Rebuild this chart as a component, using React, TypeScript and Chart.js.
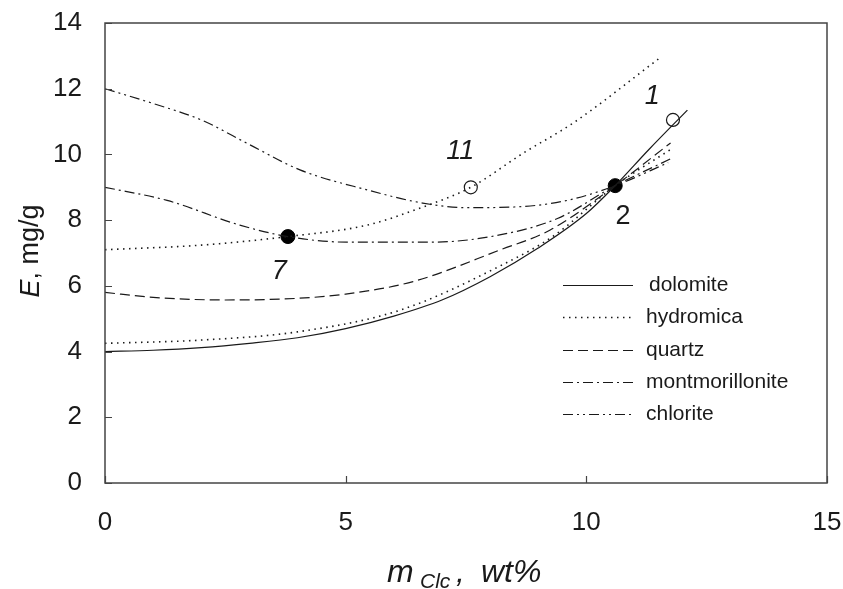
import React, { useEffect, useRef } from "react";
import { Chart, registerables } from "chart.js";

Chart.register(...registerables);

// ---- data ----
const dolomiteX = [0, 1, 2, 3, 4, 5, 6, 7, 8, 9, 10, 10.6, 11.3, 12.1];
const dolomiteY = [4.0, 4.04, 4.12, 4.25, 4.42, 4.7, 5.08, 5.57, 6.28, 7.15, 8.2, 9.05, 10.15, 11.35];

const hydromicaX = [0, 2, 4, 6.13, 8.2, 9.3, 10.6, 11.75];
const hydromicaY = [4.25, 4.35, 4.6, 5.26, 6.6, 7.5, 9.05, 10.15];

const hydromica11X = [0, 2, 3.8, 5.45, 6.55, 7.6, 8.69, 9.73, 11.52];
const hydromica11Y = [7.1, 7.24, 7.5, 7.85, 8.37, 9.0, 10.04, 10.96, 12.93];

const quartzX = [0, 1, 2.5, 4, 5, 6.4, 8.2, 9.25, 10.6, 11.75];
const quartzY = [5.8, 5.65, 5.57, 5.62, 5.75, 6.13, 7.09, 7.7, 9.05, 10.35];

const montmorilloniteX = [0, 1.29, 2.8, 3.8, 5.03, 6.8, 8.2, 9.4, 10.6, 11.8];
const montmorilloniteY = [9.0, 8.6, 7.85, 7.5, 7.33, 7.33, 7.55, 8.05, 9.05, 9.9];

const chloriteX = [0, 1, 2, 3, 4.05, 5.45, 6.6, 7.5, 8.5, 9.6, 10.6, 11.7];
const chloriteY = [12.0, 11.55, 11.05, 10.3, 9.53, 8.92, 8.52, 8.38, 8.4, 8.6, 9.05, 9.75];

const openPointX = [7.6, 11.8];
const openPointY = [9.0, 11.05];
const filledPointX = [3.8, 10.6];
const filledPointY = [7.5, 9.05];

const sampleLabels = ["11", "1", "2", "7"];
const sampleLabelX = [7.38, 11.37, 10.76, 3.62];
const sampleLabelY = [10.1, 11.75, 8.1, 6.45];
const sampleLabelItalic = [true, true, false, true];

const xTicks = [0, 5, 10, 15];
const yTicks = [0, 2, 4, 6, 8, 10, 12, 14];

const legendNames = ["dolomite", "hydromica", "quartz", "montmorillonite", "chlorite"];

const FONT = "'Liberation Sans', Arial, sans-serif";
const INK = "#1a1a1a";

const dashes: Record<string, number[]> = {
  dolomite: [],
  hydromica: [1.5, 4.5],
  quartz: [10, 5],
  montmorillonite: [10, 4, 2, 4],
  chlorite: [10, 4, 2, 4, 2, 4],
};

const pts = (xs: number[], ys: number[]) => xs.map((x, i) => ({ x, y: ys[i] }));

const lineDs = (label: string, xs: number[], ys: number[], key: string) => ({
  label,
  data: pts(xs, ys),
  showLine: true,
  borderColor: INK,
  borderWidth: key === "hydromica" ? 1.6 : 1.2,
  borderDash: dashes[key],
  pointRadius: 0,
  fill: false,
  cubicInterpolationMode: "monotone" as const,
});

const zeroPad = (s: any) => {
  s.paddingTop = 0;
  s.paddingBottom = 0;
  s.paddingLeft = 0;
  s.paddingRight = 0;
};

const overlay = {
  id: "overlay",
  afterDraw(chart: any) {
    const { ctx, chartArea: a, scales } = chart;
    const x = scales.x;
    const y = scales.y;
    ctx.save();
    // frame
    ctx.strokeStyle = "#444";
    ctx.lineWidth = 1.5;
    ctx.setLineDash([]);
    ctx.strokeRect(a.left, a.top, a.right - a.left, a.bottom - a.top);
    // inward ticks
    ctx.lineWidth = 1.2;
    ctx.beginPath();
    for (const v of yTicks) {
      const py = Math.round(y.getPixelForValue(v)) + 0.5;
      ctx.moveTo(a.left, py);
      ctx.lineTo(a.left + 7, py);
    }
    for (const v of xTicks) {
      const px = Math.round(x.getPixelForValue(v)) + 0.5;
      ctx.moveTo(px, a.bottom);
      ctx.lineTo(px, a.bottom - 7);
    }
    ctx.stroke();

    // legend
    const legY0 = 285;
    const legStep = 32.3;
    ctx.font = `21px ${FONT}`;
    ctx.textBaseline = "middle";
    ctx.textAlign = "left";
    legendNames.forEach((name, i) => {
      const ly = Math.round(legY0 + i * legStep) + 0.5;
      ctx.strokeStyle = INK;
      ctx.lineWidth = name === "hydromica" ? 1.6 : 1.2;
      ctx.setLineDash(dashes[name]);
      ctx.beginPath();
      ctx.moveTo(563, ly);
      ctx.lineTo(633, ly);
      ctx.stroke();
      ctx.setLineDash([]);
      ctx.fillStyle = INK;
      ctx.fillText(name, name === "dolomite" ? 649 : 646, ly);
    });

    // sample labels
    ctx.textAlign = "center";
    ctx.textBaseline = "middle";
    sampleLabels.forEach((t, i) => {
      ctx.font = `${sampleLabelItalic[i] ? "italic " : ""}27px ${FONT}`;
      ctx.fillStyle = INK;
      ctx.fillText(t, x.getPixelForValue(sampleLabelX[i]), y.getPixelForValue(sampleLabelY[i]));
    });

    // y title: "E, mg/g"
    ctx.save();
    ctx.translate(31, 251);
    ctx.rotate(-Math.PI / 2);
    ctx.textBaseline = "middle";
    ctx.textAlign = "left";
    const fItal = `italic 27px ${FONT}`;
    const fNorm = `27px ${FONT}`;
    ctx.font = fItal;
    const wE = ctx.measureText("E").width;
    ctx.font = fNorm;
    const wRest = ctx.measureText(", mg/g").width;
    const startY = -(wE + wRest) / 2;
    ctx.fillStyle = INK;
    ctx.font = fItal;
    ctx.fillText("E", startY, 0);
    ctx.font = fNorm;
    ctx.fillText(", mg/g", startY + wE, 0);
    ctx.restore();

    // x title: "m Clc , wt%"
    const fx1 = `italic 32px ${FONT}`;
    const fsub = `italic 21px ${FONT}`;
    ctx.textAlign = "left";
    ctx.textBaseline = "alphabetic";
    ctx.fillStyle = INK;
    const x0 = 387;
    const base = 582;
    ctx.font = fx1;
    ctx.fillText("m", x0, base);
    ctx.font = fsub;
    ctx.fillText("Clc", x0 + 33, base + 6);
    ctx.font = fx1;
    ctx.fillText(",", x0 + 69, base);
    ctx.fillText("wt%", x0 + 94, base);

    ctx.restore();
  },
};

export default function App() {
  const ref = useRef<HTMLCanvasElement | null>(null);

  useEffect(() => {
    if (!ref.current) return;
    const chart = new Chart(ref.current, {
      type: "scatter",
      data: {
        datasets: [
          lineDs("dolomite", dolomiteX, dolomiteY, "dolomite"),
          lineDs("hydromica", hydromicaX, hydromicaY, "hydromica"),
          lineDs("hydromica (11)", hydromica11X, hydromica11Y, "hydromica"),
          lineDs("quartz", quartzX, quartzY, "quartz"),
          lineDs("montmorillonite", montmorilloniteX, montmorilloniteY, "montmorillonite"),
          lineDs("chlorite", chloriteX, chloriteY, "chlorite"),
          {
            label: "open",
            data: pts(openPointX, openPointY),
            showLine: false,
            pointRadius: 6.5,
            pointBackgroundColor: "#ffffff",
            pointBorderColor: INK,
            pointBorderWidth: 1.2,
          },
          {
            label: "filled",
            data: pts(filledPointX, filledPointY),
            showLine: false,
            pointRadius: 7,
            pointBackgroundColor: "#000000",
            pointBorderColor: "#000000",
            pointBorderWidth: 1,
          },
        ] as any,
      },
      options: {
        responsive: false,
        animation: false,
        layout: { padding: { top: 23, right: 16, left: 0, bottom: 0 } },
        plugins: {
          legend: { display: false },
          tooltip: { enabled: false },
        },
        scales: {
          x: {
            type: "linear",
            min: 0,
            max: 15,
            grid: { display: false, drawTicks: false },
            border: { display: false },
            ticks: {
              stepSize: 5,
              padding: 24,
              color: INK,
              font: { family: FONT, size: 26 },
              maxRotation: 0,
            },
            afterFit: (s: any) => {
              s.height = 106;
              zeroPad(s);
            },
          },
          y: {
            type: "linear",
            min: 0,
            max: 14,
            grid: { display: false, drawTicks: false },
            border: { display: false },
            ticks: {
              stepSize: 2,
              padding: 23,
              color: INK,
              font: { family: FONT, size: 26 },
            },
            afterFit: (s: any) => {
              s.width = 105;
              zeroPad(s);
            },
          },
        },
      },
      plugins: [overlay],
    });
    return () => chart.destroy();
  }, []);

  return (
    <div style={{ position: "absolute", left: 0, top: 0, width: 843, height: 589, background: "#fff" }}>
      <canvas ref={ref} width={843} height={589} style={{ display: "block", width: 843, height: 589 }} />
    </div>
  );
}
